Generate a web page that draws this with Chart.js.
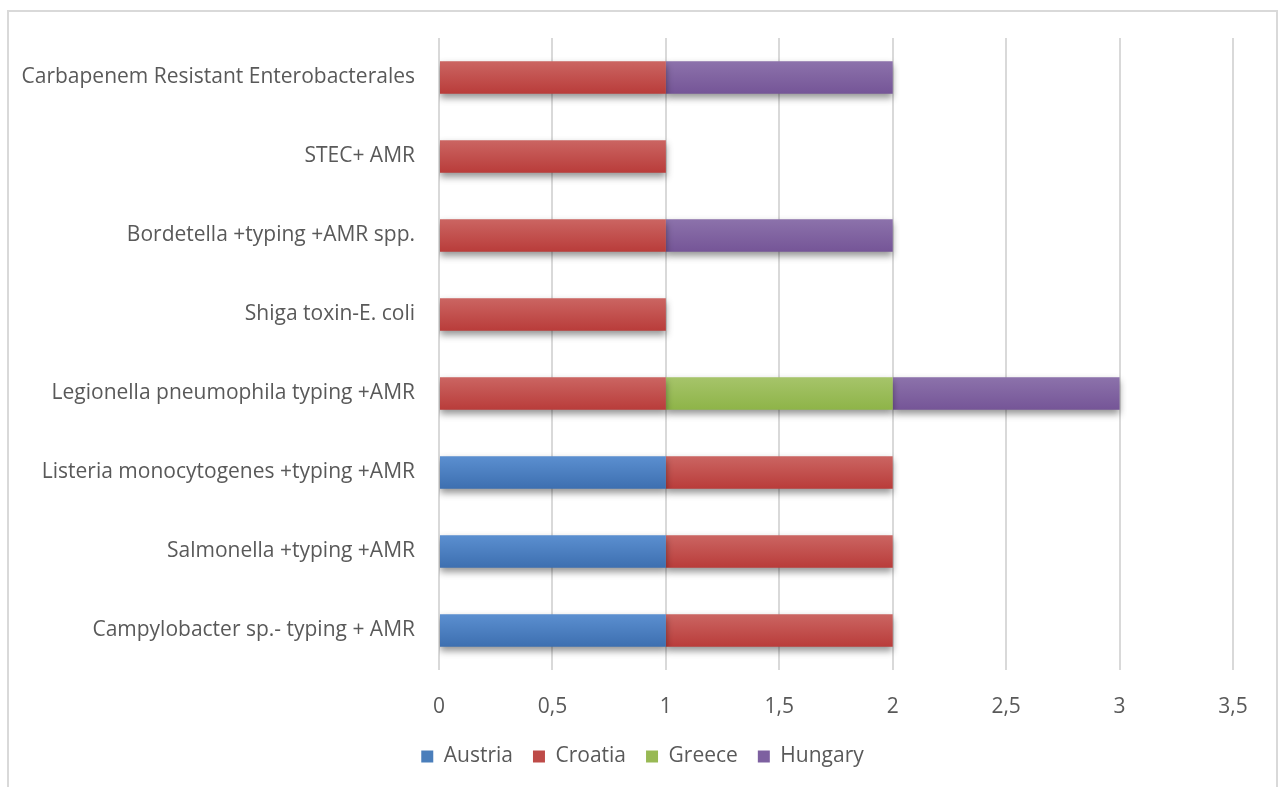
<!DOCTYPE html>
<html>
<head>
<meta charset="utf-8">
<script src="https://cdn.jsdelivr.net/npm/chart.js@4.4.1/dist/chart.umd.min.js"></script>
<style>
  html, body { margin: 0; padding: 0; background: #ffffff; }
  #wrap { position: relative; width: 1285px; height: 787px; overflow: hidden; }
  #frame { position: absolute; left: 7px; top: 10px; width: 1267px; height: 800px;
           border: 2px solid #d9d9d9; border-bottom: none; box-sizing: content-box; }
  canvas { position: absolute; left: 0; top: 0; }
</style>
</head>
<body>
<div id="wrap">
  <div id="frame"></div>
  <canvas id="chart" width="1285" height="787"></canvas>
</div>
<script>
// Pathogen / method categories, listed top to bottom
const categories = [
  'Carbapenem Resistant Enterobacterales',
  'STEC+ AMR',
  'Bordetella +typing +AMR spp.',
  'Shiga toxin-E. coli',
  'Legionella pneumophila typing +AMR',
  'Listeria monocytogenes +typing +AMR',
  'Salmonella +typing +AMR',
  'Campylobacter sp.- typing + AMR'
];

// Number of countries per category (null = none)
const austria = [null, null, null, null, null, 1, 1, 1];
const croatia = [1, 1, 1, 1, 1, 1, 1, 1];
const greece  = [null, null, null, null, 1, null, null, null];
const hungary = [1, null, 1, null, 1, null, null, null];

const seriesNames = ['Austria', 'Croatia', 'Greece', 'Hungary'];
const seriesValues = [austria, croatia, greece, hungary];

// Flat legend colours and light/dark shades for the bar gradients
const palette = [
  { base: '#4a7ebb', top: '#5b8fd0', bottom: '#3d6fb0' },
  { base: '#be4b48', top: '#cb6562', bottom: '#b93c3a' },
  { base: '#98b954', top: '#a6c46a', bottom: '#8eb448' },
  { base: '#7d60a0', top: '#8c72ab', bottom: '#755597' }
];

const BAR_PCT = 0.41;
const FONT_SIZE = 21;
const textColor = '#595959';
const fontFamily = '"Open Sans", Lato, "Liberation Sans", sans-serif';

// Each bar gets its own top-to-bottom gradient
function barFill(ctx) {
  const chart = ctx.chart;
  const i = ctx.datasetIndex;
  const yScale = chart.scales.y;
  if (!chart.chartArea || !yScale || ctx.dataIndex === undefined) return palette[i].base;
  const center = yScale.getPixelForValue(ctx.dataIndex);
  const h = (yScale.height / categories.length) * BAR_PCT;
  const g = chart.ctx.createLinearGradient(0, center - h / 2, 0, center + h / 2);
  g.addColorStop(0, palette[i].top);
  g.addColorStop(1, palette[i].bottom);
  return g;
}

// Soft drop shadow under the bar segments
const barShadow = {
  id: 'barShadow',
  beforeDatasetsDraw(chart) {
    const ctx = chart.ctx;
    ctx.save();
    ctx.shadowColor = 'rgba(0,0,0,0.42)';
    ctx.shadowBlur = 7;
    ctx.shadowOffsetX = 0;
    ctx.shadowOffsetY = 4;
  },
  afterDatasetsDraw(chart) {
    chart.ctx.restore();
  }
};

// Center the legend on the whole canvas rather than on the padded layout box
const legendCenter = {
  id: 'legendCenter',
  afterLayout(chart) {
    const lg = chart.legend;
    if (!lg) return;
    const shift = chart.width / 2 - (lg.left + lg.right) / 2;
    lg.left += shift;
    lg.right += shift;
  }
};

new Chart(document.getElementById('chart'), {
  type: 'bar',
  data: {
    labels: categories,
    datasets: seriesNames.map((name, i) => ({
      label: name,
      data: seriesValues[i],
      backgroundColor: barFill,
      borderWidth: 0,
      barPercentage: BAR_PCT,
      categoryPercentage: 1.0
    }))
  },
  options: {
    indexAxis: 'y',
    responsive: false,
    animation: false,
    layout: { padding: { top: 38, right: 52, left: 0, bottom: 10 } },
    scales: {
      x: {
        stacked: true,
        min: 0,
        max: 3.5,
        ticks: {
          stepSize: 0.5,
          color: textColor,
          font: { family: fontFamily, size: FONT_SIZE },
          padding: 24,
          callback: v => String(v).replace('.', ',')
        },
        grid: { color: '#d9d9d9', lineWidth: 2, drawTicks: false },
        border: { display: false },
        afterFit(scale) { scale.height = 56; }
      },
      y: {
        stacked: true,
        ticks: {
          color: textColor,
          font: { family: fontFamily, size: FONT_SIZE },
          padding: 24
        },
        grid: { display: false, drawTicks: false },
        border: { display: false },
        afterFit(scale) { scale.width = 439; }
      }
    },
    plugins: {
      legend: {
        position: 'bottom',
        labels: {
          color: textColor,
          font: { family: fontFamily, size: FONT_SIZE },
          boxWidth: 12,
          boxHeight: 12,
          padding: 20,
          generateLabels(chart) {
            return chart.data.datasets.map((ds, i) => ({
              text: ds.label,
              fillStyle: palette[i].base,
              strokeStyle: palette[i].base,
              lineWidth: 0,
              hidden: false,
              datasetIndex: i,
              fontColor: textColor
            }));
          }
        }
      },
      tooltip: { enabled: false }
    }
  },
  plugins: [barShadow, legendCenter]
});
</script>
</body>
</html>
